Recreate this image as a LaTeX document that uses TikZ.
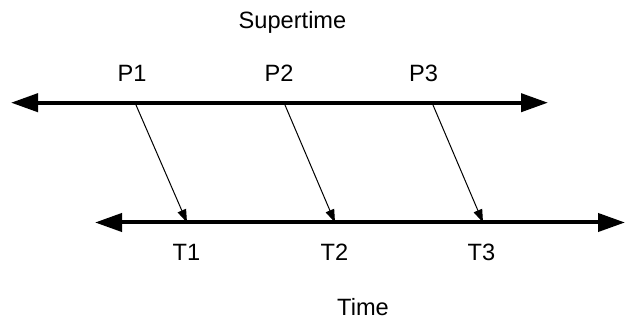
\documentclass[tikz,border=0pt]{standalone}
\usepackage{fontspec}
\setmainfont{Liberation Sans}
\usepackage{tikz}
\usetikzlibrary{arrows.meta}

\begin{document}
\begin{tikzpicture}[x=0.5pt, y=0.5pt,
  axis/.style={{Triangle[length=13.5pt, width=9pt]}-{Triangle[length=13.5pt, width=9pt]}, line width=2pt},
  map/.style={-{Triangle[length=6.5pt, width=4.5pt]}, line width=0.5pt},
  lbl/.style={anchor=base, font=\fontsize{11.8}{14}\selectfont, inner sep=0pt}]
  \useasboundingbox (0,0) rectangle (626,320);
  % the two time lines
  \coordinate (sL) at (11,217.3);
  \coordinate (sR) at (548,217.3);
  \coordinate (tL) at (95,97.5);
  \coordinate (tR) at (625,97.5);
  \draw[axis] (sL) -- (sR);
  \draw[axis] (tL) -- (tR);
  % points on them
  \coordinate (p1) at (135,217.3);
  \coordinate (p2) at (284,217.3);
  \coordinate (p3) at (432,217.3);
  \coordinate (t1) at (187,97.5);
  \coordinate (t2) at (335,97.5);
  \coordinate (t3) at (483,97.5);
  \draw[map] (p1) -- (t1);
  \draw[map] (p2) -- (t2);
  \draw[map] (p3) -- (t3);
  % labels
  \node[lbl] (super) at (292.5,291) {Supertime};
  \node[lbl] (lp1) at (132,238) {P1};
  \node[lbl] (lp2) at (279,238) {P2};
  \node[lbl] (lp3) at (423.5,238) {P3};
  \node[lbl] (lt1) at (186.5,59.5) {T1};
  \node[lbl] (lt2) at (334.5,59.5) {T2};
  \node[lbl] (lt3) at (481.5,59.5) {T3};
  \node[lbl] (time) at (363,4) {Time};
\end{tikzpicture}
\end{document}
